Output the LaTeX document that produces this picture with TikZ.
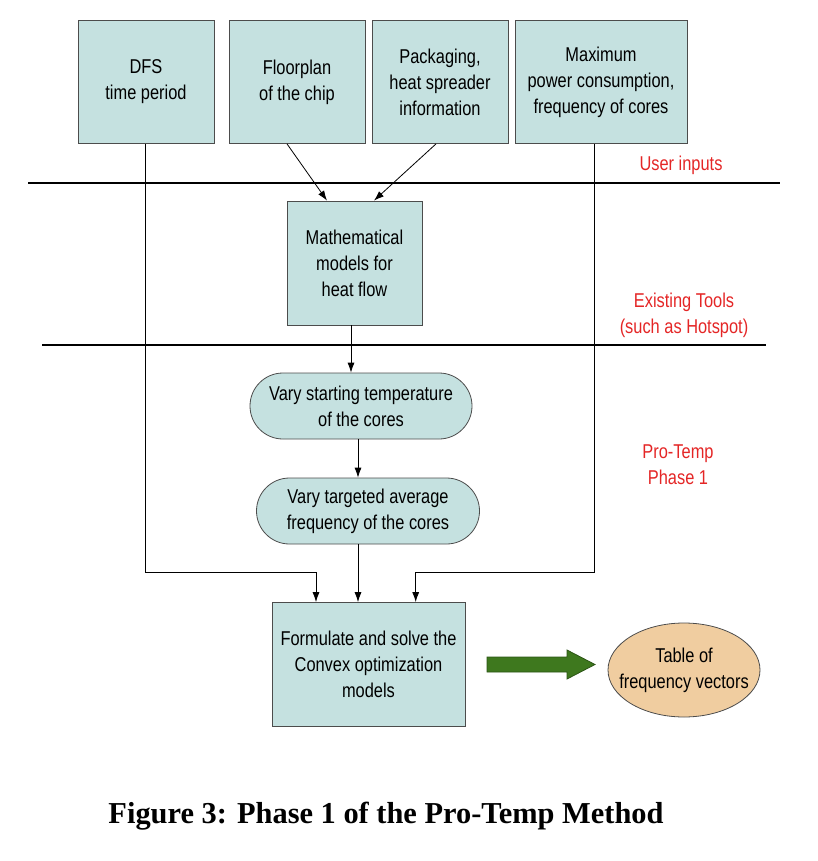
\documentclass[tikz,border=0pt]{standalone}
\usepackage{fontspec}
\setmainfont{Liberation Sans}[FakeStretch=0.82]
\newfontfamily\capfont{Liberation Serif}
\usetikzlibrary{shapes.misc,shapes.geometric,arrows.meta}
\definecolor{boxfill}{RGB}{197,225,224}
\definecolor{tablefill}{RGB}{240,205,160}
\definecolor{arrowgreen}{RGB}{62,120,30}
\definecolor{labelred}{RGB}{228,38,38}

\begin{document}
\begin{tikzpicture}[x=0.5pt,y=-0.5pt,
        font=\fontsize{10}{13}\selectfont,
        inbox/.style={shape=rectangle,draw=black!70,fill=boxfill,align=center,
            minimum width=68pt,minimum height=61.5pt,inner sep=0pt},
        varybox/.style={shape=rounded rectangle,draw=black!70,fill=boxfill,align=center,
            minimum width=111pt,minimum height=33pt,inner sep=0pt},
        note/.style={text=labelred,align=center},
        arr/.style={-{Latex[length=5pt,width=3.5pt]},line width=0.4pt}]
        \useasboundingbox (0,0) rectangle (818,861);

        % user inputs
        \node[inbox] (dfs) at (146,82) {DFS\\time period};
        \node[inbox] (floor) at (297,82) {Floorplan\\of the chip};
        \node[inbox] (pack) at (440,82) {Packaging,\\heat spreader\\information};
        \node[inbox,minimum width=86pt] (maxp) at (601,82) {Maximum\\power consumption,\\frequency of cores};

        \node[inbox,minimum width=67.5pt,minimum height=62pt] (math) at (354.5,263) {Mathematical\\models for\\heat flow};
        \node[varybox] (tstart) at (361,406) {Vary starting temperature\\of the cores};
        \node[varybox,minimum width=111.5pt] (favg) at (368,511) {Vary targeted average\\frequency of the cores};
        \node[inbox,minimum width=96.5pt,minimum height=62pt] (opt) at (368.5,664.5) {Formulate and solve the\\Convex optimization\\models};
        \node[shape=ellipse,draw=black!70,fill=tablefill,align=center,inner xsep=-5.6pt,inner ysep=0pt,
            minimum width=76pt,minimum height=47pt] (freqtab) at (684,670) {Table of\\frequency vectors};

        \node[note] (user) at (681,165) {User inputs};
        \node[note] (tools) at (684,315) {Existing Tools\\(such as Hotspot)};
        \node[note] (phase) at (678,465) {Pro-Temp\\Phase 1};
        \node[font=\capfont\bfseries\fontsize{15.2}{18}\selectfont] (cap) at (386,816) {Figure 3: Phase 1 of the Pro-Temp Method};

        % separators
        \draw[line width=0.7pt] (28,183) -- (780,183);
        \draw[line width=0.7pt] (42,345) -- (766,345);

        \draw[arr] ([xshift=-5pt]floor.south) -- ([xshift=-13.75pt]math.north);
        \draw[arr] ([xshift=-2pt]pack.south) -- ([xshift=9.75pt]math.north);
        \draw[arr] ([xshift=-1.75pt]math.south) -- ([xshift=-1.75pt]math.south |- tstart.north);
        \draw[arr] ([xshift=-1.5pt]tstart.south) -- ([xshift=-1.5pt]tstart.south |- favg.north);
        \draw[arr] ([xshift=-5pt]favg.south) -- ([xshift=-5pt]favg.south |- opt.north);
        \draw[arr] ([xshift=-0.5pt]dfs.south) |- ([xshift=-26.25pt,yshift=15pt]opt.north) -- ([xshift=-26.25pt]opt.north);
        \draw[arr] ([xshift=-3.5pt]maxp.south) |- ([xshift=23.6pt,yshift=15pt]opt.north) -- ([xshift=23.6pt]opt.north);

        % block arrow
        \filldraw[fill=arrowgreen,draw=arrowgreen!70!black,line width=0.4pt]
            (487,657) -- (567,657) -- (567,650) -- (595,664.5) -- (567,679) -- (567,672) -- (487,672) -- cycle;
    \end{tikzpicture}
\end{document}
